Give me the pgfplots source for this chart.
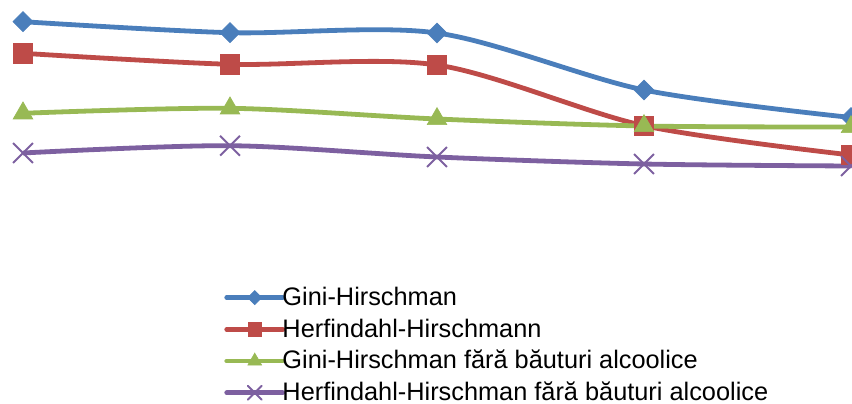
\documentclass[border=0pt]{standalone}
\usepackage{pgfplots}
\pgfplotsset{compat=1.18}
\usepackage{fontspec}
\setmainfont{Liberation Sans}

\definecolor{cBlue}{HTML}{4A7EBB}
\definecolor{cRed}{HTML}{BE4B48}
\definecolor{cGreen}{HTML}{98B954}
\definecolor{cPurple}{HTML}{7D60A0}

\begin{document}
\begin{tikzpicture}
\begin{axis}[
    at={(0,0)}, anchor=south west,
    scale only axis,
    width=639pt, height=302.25pt,
    xmin=-0.1111, xmax=4.0048,
    ymin=0, ymax=403,
    hide axis,
    clip=false,
    legend cell align=left,
    legend style={
        at={(0.263,0.288)}, anchor=north west,
        draw=none, fill=none, inner sep=0pt,
        font=\fontsize{19}{22}\selectfont,
        nodes={inner sep=0pt, text height=13.6pt, text depth=2pt},
        row sep=8.2pt, column sep=-2pt,
    },
    legend image code/.code={
        \draw[#1, mark repeat=2, mark phase=2, line cap=round,
              every mark/.append style={scale=0.7}]
            plot coordinates {(0pt,0pt) (21pt,0pt) (42pt,0pt)};
    },
    every axis plot/.append style={line width=3.6pt, smooth, tension=0.5},
]
\addplot[cBlue, mark=square*, mark size=5.3pt,
    mark options={rotate=45, solid, line width=0.5pt}]
    coordinates {(0,381.3) (1,370.3) (2,370) (3,313) (4,285.5)};
\addlegendentry{Gini-Hirschman}

\addplot[cRed, mark=square*, mark size=7.3pt,
    mark options={solid, line width=0.5pt}]
    coordinates {(0,349.7) (1,338.7) (2,338) (3,277.3) (4,248)};
\addlegendentry{Herfindahl-Hirschmann}

\addplot[cGreen, mark=triangle*, mark size=8.5pt,
    mark options={solid, line width=0.5pt}]
    coordinates {(0,289.7) (1,294.7) (2,284) (3,277) (4,276)};
\addlegendentry{Gini-Hirschman fără băuturi alcoolice}

\addplot[cPurple, mark=x, mark size=10.5pt,
    mark options={solid, line width=1.5pt}]
    coordinates {(0,250) (1,257.3) (2,246) (3,239) (4,237)};
\addlegendentry{Herfindahl-Hirschman fără băuturi alcoolice}
\end{axis}
\pgfresetboundingbox
\path[use as bounding box] (0,0) rectangle (639pt,302.25pt);
\end{tikzpicture}
\end{document}
